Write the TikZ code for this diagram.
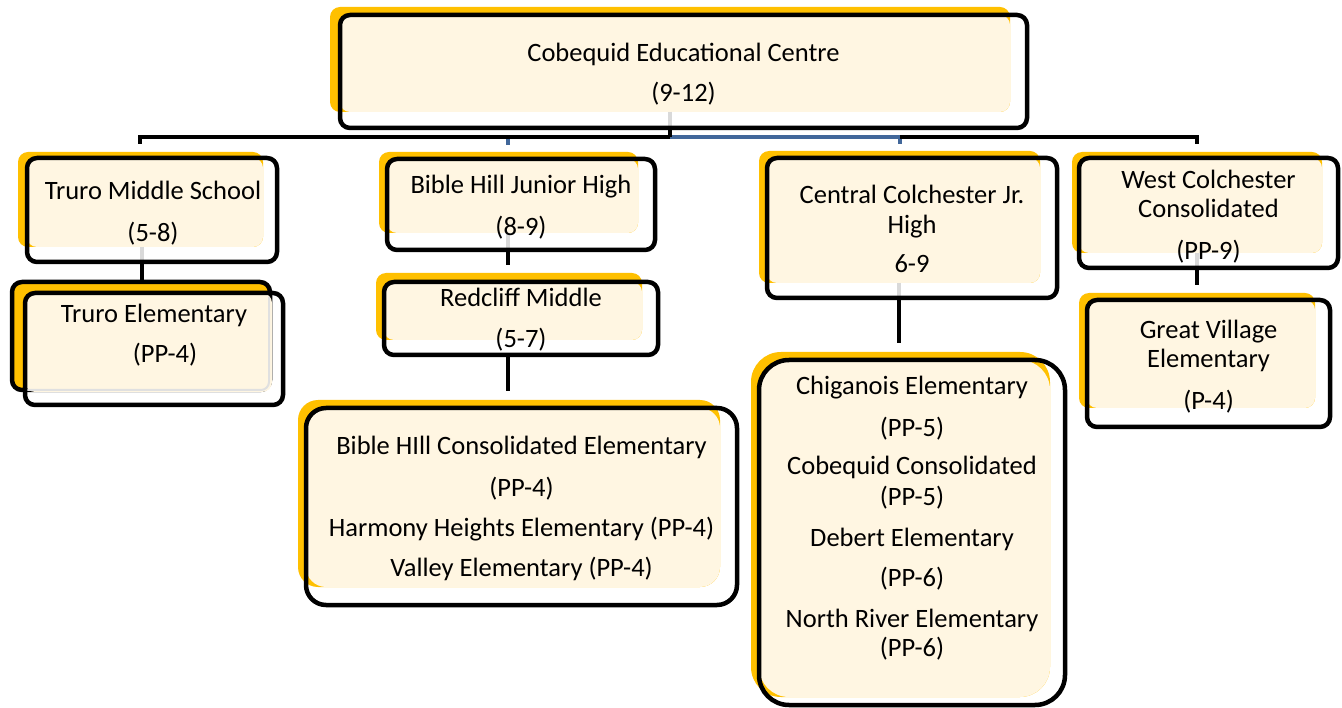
\documentclass[tikz,border=0pt]{standalone}
\usepackage{fontspec}
\setmainfont{Carlito}
\definecolor{gold}{HTML}{FFC000}
\definecolor{cream}{HTML}{FFF6E2}
\definecolor{busblue}{HTML}{41679A}
\tikzset{
  unit/.style={draw=black, line width=4.5pt, rounded corners=10pt, inner sep=0pt},
  txt/.style={inner sep=0pt, align=center, font=\fontsize{26.5}{29.5}\selectfont},
  conn/.style={draw=black, line width=4.5pt, line join=miter},
  blueconn/.style={draw=busblue, line width=4pt, line join=miter},
  stub/.style={draw=black!15, line width=4pt}
}
\begin{document}
\begin{tikzpicture}[x=1pt,y=-1pt]
      \useasboundingbox[fill=white] (0,0) rectangle (1342,708);
      % gold shadows and cream fills
      \fill[gold, rounded corners=10pt] (330,7) rectangle (1010,112);
      \fill[cream, rounded corners=10pt] (340,15) rectangle (1010,112);
      \fill[gold, rounded corners=10pt] (18,152) rectangle (263,247);
      \fill[cream, rounded corners=10pt] (27,158) rectangle (263,247);
      \node[unit, fill=gold, minimum width=258pt, minimum height=108pt] (teb) at (141,336) {};
      \fill[cream, rounded corners=10pt] (25,293) rectangle (272,392);
      \draw[black!12, line width=2pt, rounded corners=8pt] (27,390) -| (269,297);
      \fill[gold, rounded corners=10pt] (379,152) rectangle (638,233);
      \fill[cream, rounded corners=10pt] (387,159) rectangle (638,233);
      \fill[gold, rounded corners=10pt] (376,273) rectangle (642,340);
      \fill[cream, rounded corners=10pt] (384,282) rectangle (642,340);
      \fill[gold, rounded corners=20pt] (298,400) rectangle (720,587);
      \fill[cream, rounded corners=20pt] (306,408) rectangle (720,587);
      \fill[gold, rounded corners=10pt] (759,151) rectangle (1040,283);
      \fill[cream, rounded corners=10pt] (767,158) rectangle (1040,283);
      \fill[gold, rounded corners=30pt] (751,352) rectangle (1050,697);
      \fill[cream, rounded corners=30pt] (759,360) rectangle (1050,697);
      \fill[gold, rounded corners=10pt] (1072,152) rectangle (1322,253);
      \fill[cream, rounded corners=10pt] (1079,158) rectangle (1322,253);
      \fill[gold, rounded corners=10pt] (1079,293) rectangle (1315,408);
      \fill[cream, rounded corners=10pt] (1087,300) rectangle (1315,408);
      % hidden ends of the connectors
      \draw[stub] (670,112) -- (670,126);
      \draw[stub] (142,247) -- (142,260);
      \draw[stub] (508,233) -- (508,248);
      \draw[stub] (899,283) -- (899,296);
      \draw[stub] (1197,253) -- (1197,266);
      % units
      \node[unit, minimum width=687pt, minimum height=113pt] (cec) at (683.5,71.5) {};
      \node[txt] (cec-t) at (683.5,74) {Cobequid Educational Centre\\[10.5pt](9-12)};
      \node[unit, minimum width=250pt, minimum height=104pt] (tms) at (152,210) {};
      \node[txt] (tms-t) at (153,213) {Truro Middle School\\[12.5pt](5-8)};
      \node[unit, minimum width=258pt, minimum height=112pt] (te) at (154,349) {};
      \node[txt] (te-t) at (154,335) {Truro Elementary\\[10.5pt]\hspace*{22pt}(PP-4)};
      \node[unit, minimum width=268pt, minimum height=91pt] (bhj) at (521,204.5) {};
      \node[txt] (bhj-t) at (521,207) {Bible Hill Junior High\\[12.5pt](8-9)};
      \node[unit, minimum width=274pt, minimum height=73pt] (rcm) at (521,318.5) {};
      \node[txt] (rcm-t) at (521,320) {Redcliff Middle\\[11.5pt](5-7)};
      \node[unit, rounded corners=20pt, minimum width=431pt, minimum height=197pt] (bhc) at (521.5,506.5) {};
      \node[txt] (bhc-t) at (521.5,508.5)
        {Bible HIll Consolidated Elementary\\[12.5pt](PP-4)\\[10.5pt]Harmony Heights Elementary (PP-4)\\[10.5pt]Valley Elementary (PP-4)};
      \node[unit, minimum width=290pt, minimum height=140pt] (ccj) at (912,228) {};
      \node[txt] (ccj-t) at (912,229) {Central Colchester Jr.\\High\\[10pt]6-9};
      \node[unit, rounded corners=30pt, minimum width=306pt, minimum height=345pt] (chg) at (912,532.5) {};
      \node[txt] (chg-t) at (912,518)
        {Chiganois Elementary\\[12.5pt](PP-5)\\[8.5pt]Cobequid Consolidated\\[1.5pt](PP-5)\\[11.5pt]Debert Elementary\\[10.5pt](PP-6)\\[11.5pt]North River Elementary\\(PP-6)};
      \node[unit, minimum width=259pt, minimum height=110pt] (wcc) at (1208.5,213) {};
      \node[txt] (wcc-t) at (1208.5,216.5) {West Colchester\\Consolidated\\[12.5pt](PP-9)};
      \node[unit, minimum width=243pt, minimum height=127pt] (gve) at (1208.5,363.5) {};
      \node[txt] (gve-t) at (1208.5,366.5) {Great Village\\Elementary\\[12.5pt](P-4)};
      % connectors
      \coordinate (bus) at (670,137);
      \draw[blueconn, shorten <=12pt, shorten >=12pt] (508,0 |- bhj.north) |- (bus) -| (900,0 |- ccj.north);
      \draw[conn, shorten <=12pt] (140,0 |- tms.north) |- (bus);
      \draw[conn, shorten <=12pt] (1197,0 |- wcc.north) |- (900,0 |- bus);
      \draw[conn] (bus) -- (670,0 |- cec.south);
      \draw[conn] (142,0 |- tms.south) -- (142,0 |- teb.north);
      \draw[conn, shorten >=15pt] (508,0 |- bhj.south) -- (508,0 |- rcm.north);
      \draw[conn, shorten >=15pt] (508,0 |- rcm.south) -- (508,0 |- bhc.north);
      \draw[conn, shorten >=15pt] (899,0 |- ccj.south) -- (899,0 |- chg.north);
      \draw[conn, shorten >=13pt] (1197,0 |- wcc.south) -- (1197,0 |- gve.north);
    \end{tikzpicture}
\end{document}
